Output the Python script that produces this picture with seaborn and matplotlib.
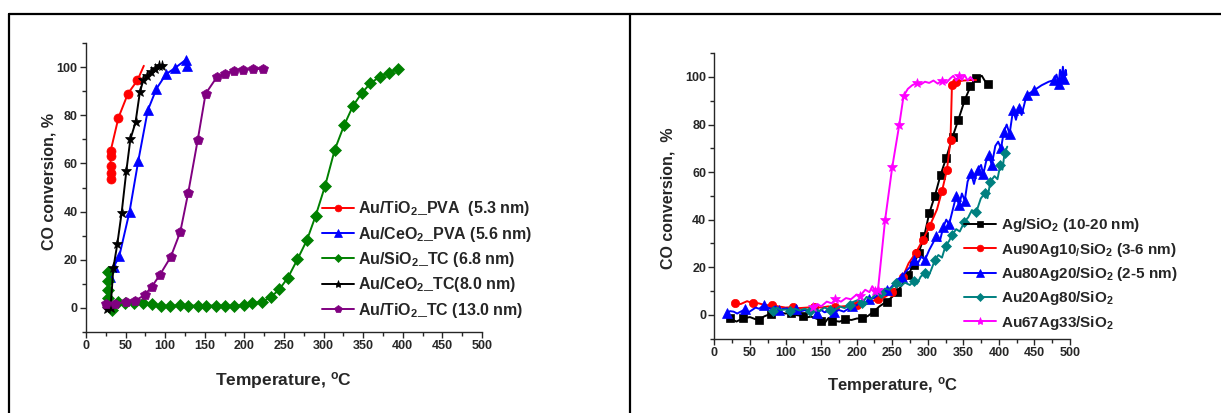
import numpy as np
import pandas as pd
import matplotlib
matplotlib.use("Agg")
import matplotlib.pyplot as plt
from matplotlib.lines import Line2D
from matplotlib.ticker import MultipleLocator
import seaborn as sns

sns.set_style("ticks")
plt.rcParams['font.family'] = ['Liberation Sans', 'DejaVu Sans']
plt.rcParams['font.weight'] = 'bold'
plt.rcParams['mathtext.fontset'] = 'custom'
plt.rcParams['mathtext.rm'] = 'Liberation Sans:bold'
plt.rcParams['mathtext.it'] = 'Liberation Sans:bold'
plt.rcParams['mathtext.bf'] = 'Liberation Sans:bold'
plt.rcParams['mathtext.default'] = 'rm'

# ---- left panel: catalysts, CO conversion vs temperature
tio2_pva_x = [31, 31, 31, 31, 31, 41, 53, 65, 73]
tio2_pva_y = [53.5, 56, 59, 63, 65, 79, 89, 94.5, 100.5]

ceo2_pva_x = [30, 35, 42, 55, 66, 78, 89, 101, 112, 126, 128]
ceo2_pva_y = [13, 17, 21.5, 40, 61, 82, 91, 97, 99.5, 103, 100.5]

sio2_tc_x = [28, 28, 28, 28, 29, 33, 40, 49, 61, 72, 83, 95, 106, 119, 129, 142, 152, 164,
             176, 187, 199, 210, 222, 233, 244, 255, 267, 279, 290, 302, 314, 326, 337,
             348, 359, 371, 382, 394]
sio2_tc_y = [15, 11, 7.5, 4, 1, -0.7, 2.5, 2.2, 2, 2, 1.5, 1, 0.8, 1.2, 1, 1, 1, 1,
             1, 1, 1.2, 2, 2.6, 4.4, 7.7, 12.6, 20.2, 28.2, 38.3, 50.8, 65.6, 75.9, 83.8,
             89.1, 93.2, 96, 97.6, 99.2]

ceo2_tc_x = [27, 31, 34.5, 39.5, 45, 51, 56, 62.5, 68, 72.5, 77.5, 82, 87, 92.5, 95.5]
ceo2_tc_y = [-0.5, 0, 16.5, 26.5, 39.5, 57, 70, 77, 89.5, 94.7, 96.4, 97.8, 99.3, 100.6, 100.3]

tio2_tc_x = [25, 37, 50, 62, 74, 83, 93, 107, 119, 129, 141, 151, 165, 175, 187, 198, 211, 223]
tio2_tc_y = [1.8, 1.8, 2.5, 3.0, 5.4, 8.8, 13.6, 21.2, 31.5, 47.7, 69.6, 88.9, 95.7, 97.2,
             98.5, 98.8, 99.0, 99.3]

# ---- right panel: Au-Ag alloys on SiO2
ag_x = [22, 31, 40, 50, 57, 63, 70, 80, 90, 100, 108, 116, 125, 130, 136, 143, 150, 155,
        160, 166, 176, 184, 193, 200, 208, 216, 224, 232, 242, 250, 257, 265, 272, 280,
        287, 295, 302, 310, 318, 326, 335, 343, 352, 360, 368, 376, 380, 384]
ag_y = [-1.5, -2.9, -1.5, -1.0, -1.8, -2.2, -0.7, 0.5, 1.0, 0.5, 0.8, -0.2, -0.5, -1.1,
        -0.8, -1.6, -2.5, -3.5, -1.5, -2.5, -2.9, -2.0, -2.2, -1.6, -1.5, -0.5, 1.3, 3.5,
        5.5, 7.5, 9.7, 13, 16.5, 21, 25.8, 33, 42.6, 50, 58.8, 66, 74.9, 82, 90.3, 96,
        99.4, 100.5, 98.5, 97]

au90_x = [28.5, 37, 46, 54, 62, 72, 81, 90, 100, 110, 120, 130, 140, 150, 160, 170, 180,
          190, 200, 211, 220, 230, 240, 250, 258, 265, 273, 283, 293, 303, 313, 320, 327,
          332, 334, 340, 350, 360, 368]
au90_y = [5.0, 4.5, 5.7, 4.8, 4.8, 4.0, 4.1, 3.5, 3.0, 3.2, 2.8, 3.0, 3.3, 3.0, 3.5, 3.2,
          3.5, 3.8, 4.0, 4.1, 5.5, 6.5, 7.5, 9.5, 12, 16, 21.6, 26, 31.4, 37.5, 44.3, 52,
          61, 73.5, 96.6, 98, 98.5, 98.7, 98.7]

au80_x = [17.5, 22, 27, 32, 37, 43, 48, 53, 58, 63, 69.5, 75, 80, 86, 91.5, 97, 102, 108,
          115, 122, 128, 134, 140, 144, 150, 155, 162, 168, 175, 182, 188, 194, 200, 206,
          212, 218, 224, 230, 236, 242, 247, 253, 258, 264, 270, 275, 280, 286, 291, 296,
          302, 307, 312, 317, 322, 326, 330, 335, 340, 344, 348, 352, 356, 361, 365, 370,
          375, 378, 382, 386, 390, 395, 399, 403, 407, 411, 415, 420, 424, 428, 432, 439,
          450, 460, 470, 477.5, 481, 484, 486, 488.5, 490, 492, 494, 495]
au80_y = [0.6, 1.5, 1.3, 0.5, 1.3, 2.2, 1.0, 2.0, 3.0, 2.5, 4.1, 3.0, 2.5, 3.5, 2.0, 2.5,
          2.7, 1.5, 2.5, 1.5, 2.0, 1.3, 1.8, 0.6, 2.0, 1.0, 1.8, 1.0, 2.0, 1.3, 2.5, 3.5,
          4.0, 5.5, 4.8, 6.5, 7.0, 8.3, 9.5, 10.5, 11.1, 13, 15, 16, 18.5, 20, 23, 21.6,
          24.5, 23, 27.2, 30, 33, 31, 37, 40, 38, 44, 50, 46, 51, 48, 56, 59.5, 55, 61,
          63, 59, 64.4, 67, 63, 71, 72.8, 70, 77, 80, 76, 86.1, 82, 87, 84, 92.4,
          94.5, 96.5, 98, 98.7, 101, 97, 103, 100, 104.3, 99, 103, 100.8]

au20_x = [83, 88, 93, 100.8, 107, 113, 120, 127, 134, 140, 147, 155, 162, 169.8, 176, 183,
          190, 196, 202, 208, 214, 220, 226, 233.8, 240, 246, 251, 255.7, 262, 268, 274.9,
          280, 285, 290, 295.7, 300, 305, 310, 314.9, 320, 325, 330, 334.1, 340, 345,
          351.6, 357, 362, 368, 374.6, 380, 384, 388, 393.8, 398, 402, 405, 408, 411.8]
au20_y = [1.7, 3.0, 2.0, 2.2, 1.5, 2.5, 1.8, 2.5, 1.7, 2.5, 1.5, 3.0, 2.0, 2.2, 3.5, 2.8,
          4.0, 5.5, 6.2, 5.0, 7.5, 6.5, 8.5, 9.3, 11, 10.5, 11.8, 13.2, 12, 13.5, 12.5,
          14, 13, 16, 17.4, 15.5, 19, 23, 25.1, 24, 29, 31, 33.5, 36, 35, 39.1, 41, 44,
          43, 48.9, 51, 49, 56, 58.3, 57, 63, 61, 68, 70.7]

au67_x = [138, 145, 150, 158, 165, 170, 178, 185, 192, 200, 205, 212, 218, 222, 226, 230,
          240, 250, 260, 266, 272, 278, 285, 290, 296, 302, 308, 314, 320, 326, 332, 336,
          340, 344, 348, 352, 356, 360, 364]
au67_y = [3.4, 4.5, 3.5, 5.5, 4.8, 6.5, 5.5, 7, 6.5, 8.5, 8, 10.5, 9.5, 12, 10, 10.5,
          39.8, 62, 80, 92, 95, 96.5, 97.5, 96.8, 98, 97.5, 98.5, 97.2, 98.5, 97.5, 99.5,
          100.5, 98.5, 100.5, 98.8, 100.8, 98.5, 100, 98.5]

left_series = [
    ('Au/TiO$_2$_PVA  (5.3 nm)', tio2_pva_x, tio2_pva_y, '#ff0000', 'o', 6.5, slice(0, -1)),
    ('Au/CeO$_2$_PVA (5.6 nm)', ceo2_pva_x, ceo2_pva_y, '#0000ff', '^', 7, None),
    ('Au/SiO$_2$_TC (6.8 nm)', sio2_tc_x, sio2_tc_y, '#008000', 'D', 6, None),
    ('Au/CeO$_2$_TC(8.0 nm)', ceo2_tc_x, ceo2_tc_y, '#000000', '*', 8, None),
    ('Au/TiO$_2$_TC (13.0 nm)', tio2_tc_x, tio2_tc_y, '#800080', 'p', 7.5, None),
]
right_series = [
    ('Ag/SiO$_2$ (10-20 nm)', ag_x, ag_y, '#000000', 's', 5.5, 0.035),
    ('Au90Ag10$_/$SiO$_2$ (3-6 nm)', au90_x, au90_y, '#ff0000', 'o', 6, 0.045),
    ('Au80Ag20/SiO$_2$ (2-5 nm)', au80_x, au80_y, '#0000ff', '^', 6.5, 0.045),
    ('Au20Ag80/SiO$_2$', au20_x, au20_y, '#008080', 'D', 5.5, 0.045),
    ('Au67Ag33/SiO$_2$', au67_x, au67_y, '#ff00ff', '*', 7.5, 0.06),
]

W, H = 1221, 413
fig = plt.figure(figsize=(W / 100, H / 100), dpi=100)

# outer frame lines
fy = 1 - 13.5 / H
fig.add_artist(Line2D([8.5 / W, 1], [fy, fy], color='k', lw=1.6))
fig.add_artist(Line2D([8.5 / W, 8.5 / W], [0, fy], color='k', lw=1.6))
fig.add_artist(Line2D([630 / W, 630 / W], [0, fy], color='k', lw=1.6))


def make_axes(px_left, px_right, py_top, py_bottom):
    return fig.add_axes([px_left / W, 1 - py_bottom / H,
                         (px_right - px_left) / W, (py_bottom - py_top) / H])


def draw_panel(ax, series, lw):
    for label, xs, ys, color, marker, ms, mevery in series:
        df = pd.DataFrame({'x': xs, 'y': ys})
        sns.lineplot(data=df, x='x', y='y', ax=ax, sort=False, estimator=None,
                     color=color, lw=lw, marker=marker, markersize=ms,
                     markeredgecolor=color, markerfacecolor=color,
                     markeredgewidth=0.5, markevery=mevery, label=label, legend=False)
    ax.set_xlim(0, 500)
    ax.set_ylim(-10, 110)
    ax.xaxis.set_major_locator(MultipleLocator(50))
    ax.xaxis.set_minor_locator(MultipleLocator(25))
    ax.yaxis.set_major_locator(MultipleLocator(20))
    ax.yaxis.set_minor_locator(MultipleLocator(10))
    ax.set_yticks([0, 20, 40, 60, 80, 100])
    sns.despine(ax=ax)
    for s in ('left', 'bottom'):
        ax.spines[s].set_linewidth(1.0)
    ax.tick_params(which='major', direction='out', length=4, width=1, labelsize=9, pad=2)
    ax.tick_params(which='minor', direction='out', length=3, width=1)
    for t in ax.get_xticklabels() + ax.get_yticklabels():
        t.set_fontweight('bold')


axL = make_axes(86, 482, 42.9, 332.1)
draw_panel(axL, left_series, 1.4)
axL.set_xlabel('Temperature, $^{o}$C', fontsize=12.5, fontweight='bold')
axL.set_ylabel('CO conversion, %', fontsize=11.5, fontweight='bold')
axL.xaxis.label.set_va('center')
axL.yaxis.label.set_va('center')
axL.xaxis.set_label_coords(0.5, -0.166)
axL.yaxis.set_label_coords(-0.093, 0.52)

axR = make_axes(714.4, 1070, 53.2, 338.5)
draw_panel(axR, right_series, 1.4)
axR.set_xlabel('Temperature, $^{o}$C', fontsize=12, fontweight='bold')
axR.set_ylabel('CO conversion,  %', fontsize=11.5, fontweight='bold')
axR.xaxis.label.set_va('center')
axR.yaxis.label.set_va('center')
axR.xaxis.set_label_coords(0.5, -0.163)
axR.yaxis.set_label_coords(-0.13, 0.49)

legL = axL.legend(loc='center left', bbox_to_anchor=(321.7 / W, 1 - 259.5 / H),
                  bbox_transform=fig.transFigure, frameon=False, fontsize=11.5,
                  handlelength=2.0, handletextpad=0.3, labelspacing=0.4,
                  borderpad=0, borderaxespad=0, markerscale=0.75)
legR = axR.legend(loc='center left', bbox_to_anchor=(964 / W, 1 - 274 / H),
                  bbox_transform=fig.transFigure, frameon=False, fontsize=11,
                  handlelength=2.1, handletextpad=0.3, labelspacing=0.42,
                  borderpad=0, borderaxespad=0, markerscale=0.8)
for leg in (legL, legR):
    for t in leg.get_texts():
        t.set_fontweight('bold')

fig.savefig('out.png', dpi=100)
